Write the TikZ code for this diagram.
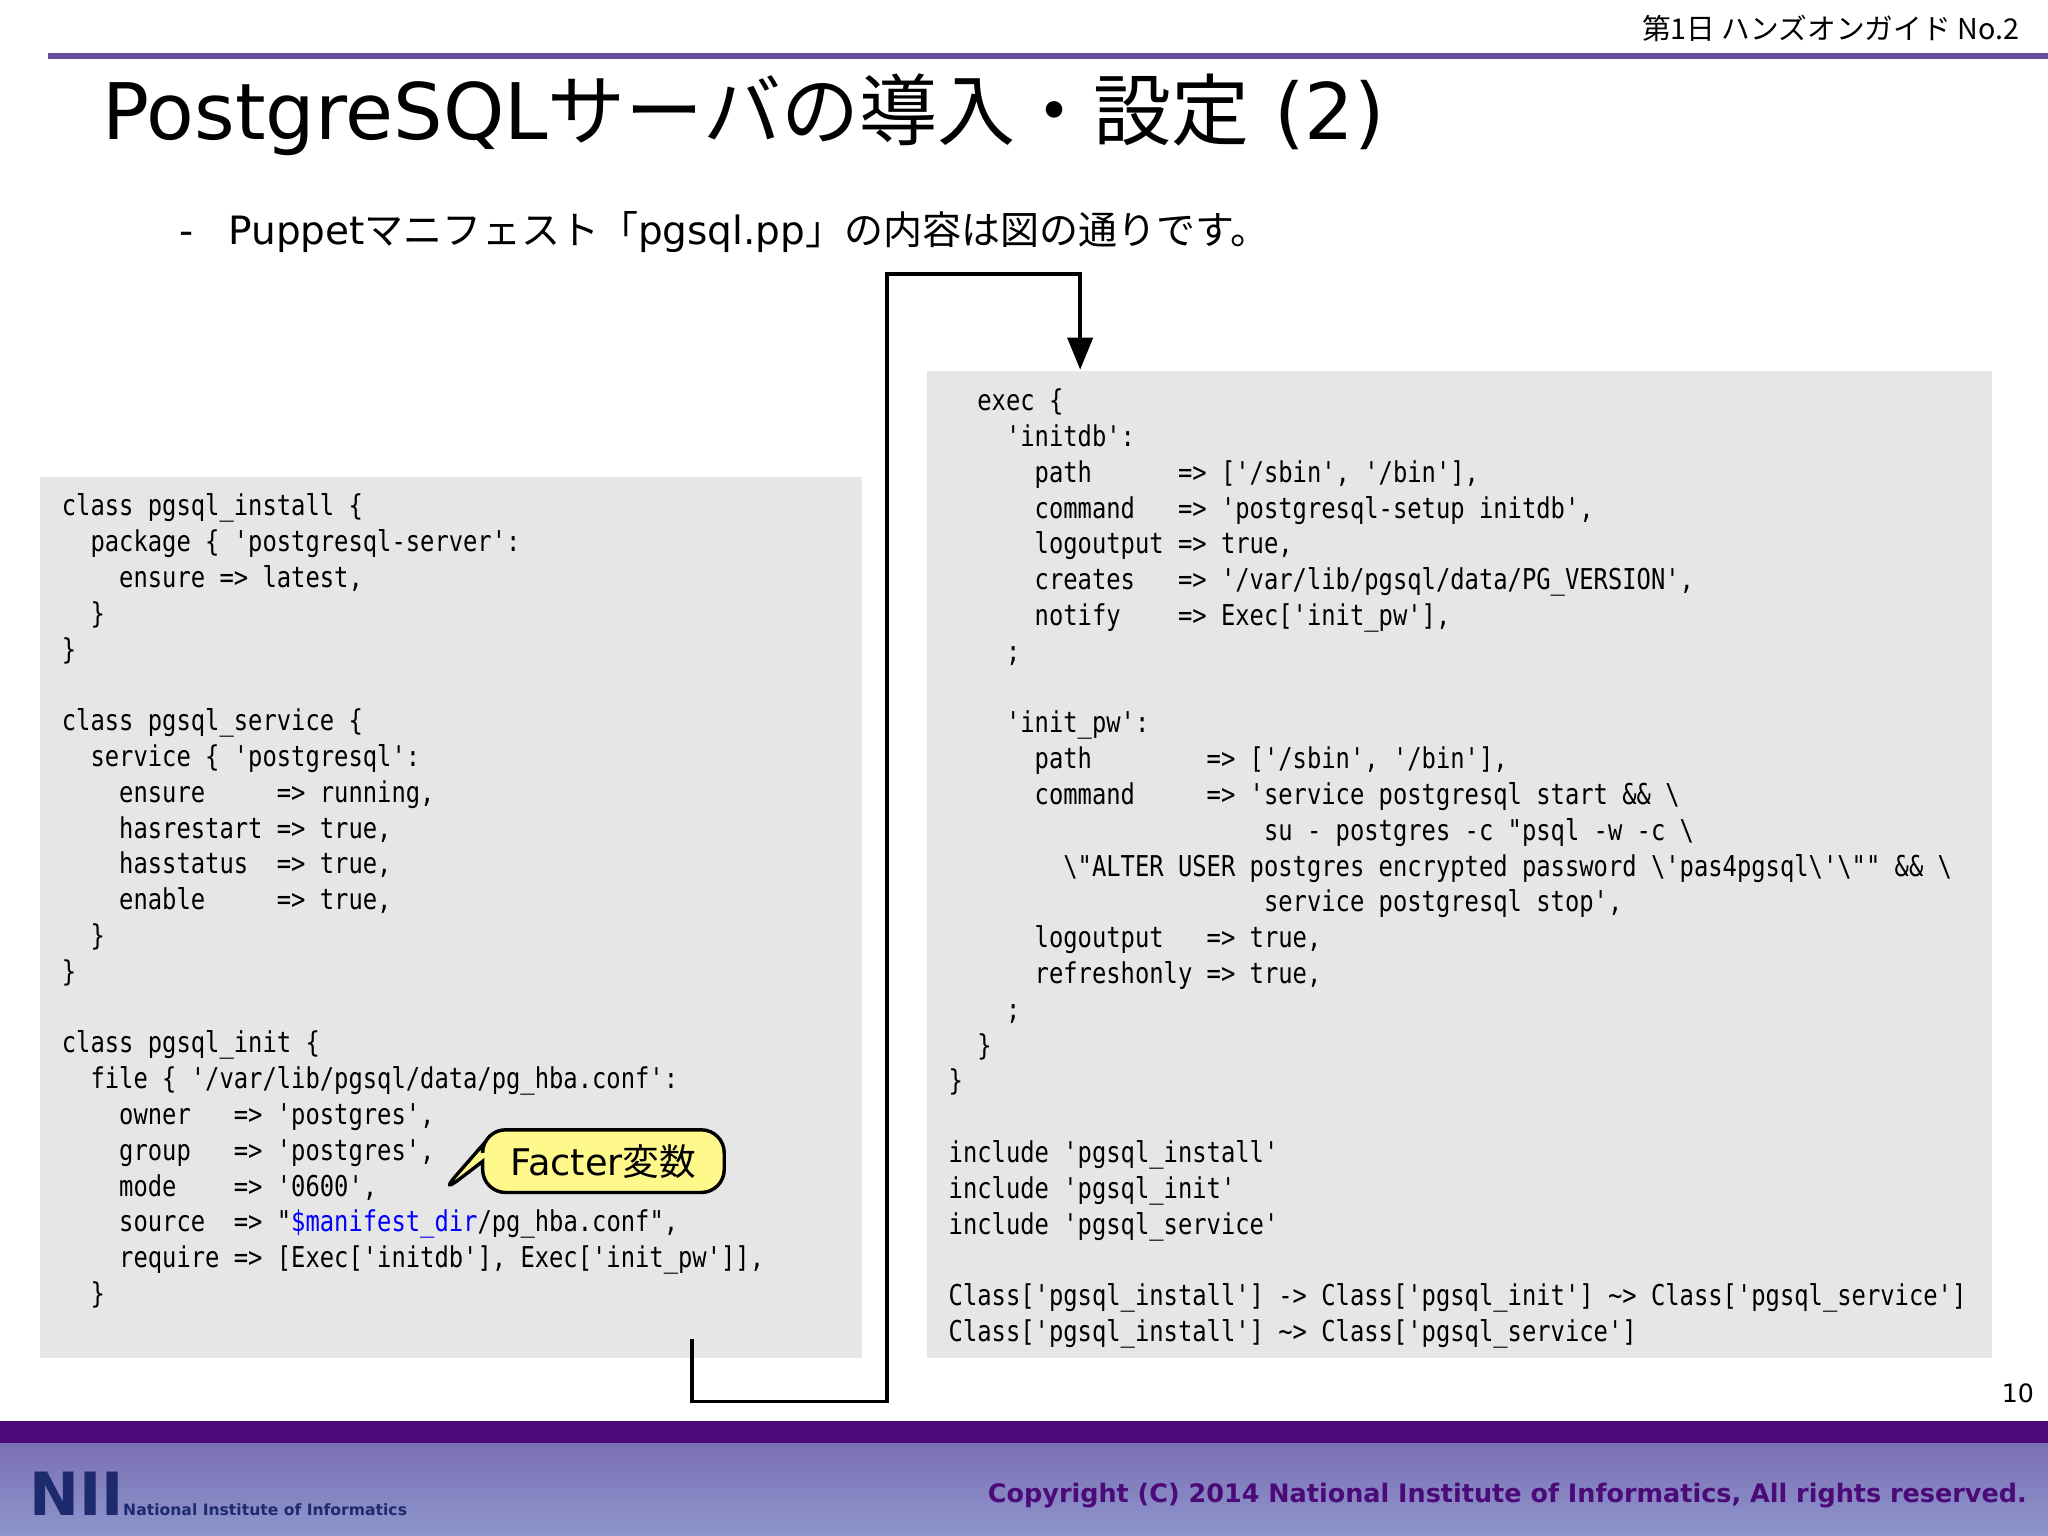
\documentclass[tikz,border=0pt]{standalone}
\usepackage{fontspec}
\setmainfont{DejaVu Sans}
\newfontfamily\jp{Noto Sans CJK JP}
\newfontfamily\code[FakeStretch=0.83]{DejaVu Sans Mono}
\usetikzlibrary{arrows.meta,shapes.callouts}
\definecolor{hdr}{HTML}{6A4C9C}
\definecolor{boxbg}{HTML}{E6E6E6}
\definecolor{foot}{HTML}{4B0A78}
\definecolor{footl}{HTML}{8E96CC}
\definecolor{nii}{HTML}{1E2A6E}
\tikzset{codebox/.style={fill=boxbg,draw=none},
 codetxt/.style={anchor=base west,align=left,inner sep=0pt,font=\code\fontsize{12.5}{15.6}\selectfont},
 conn/.style={draw=black,line width=1.6pt}}
\begin{document}
\begin{tikzpicture}[x=0.02cm,y=0.02cm]
\useasboundingbox (0,0) rectangle (1568,-1176);
% header
\node[anchor=east,font=\jp\fontsize{12.5}{14}\selectfont] (hd) at (1552,-22) {第1日 ハンズオンガイド No.2};
\draw[hdr,line width=2.5pt] (37,-43) -- (1568,-43);
\node[anchor=base west,inner sep=0pt,font=\fontsize{34}{40}\selectfont] (title) at (78,-107) {PostgreSQL{\jp サーバの導入・設定} (2)};
\node[anchor=base west,inner sep=0pt,font=\fontsize{17}{20}\selectfont] (bul) at (137,-187) {-\hspace{0.9em}Puppet{\jp マニフェスト「}pgsql.pp{\jp 」の内容は図の通りです。}};
% boxes
\fill[boxbg] (31,-365) rectangle (660,-1040);
\fill[boxbg] (710,-284) rectangle (1525,-1040);
\node[codetxt] (lc) at (47,-998) {class pgsql\_install \{\\
~~package \{ 'postgresql-server':\\
~~~~ensure => latest,\\
~~\}\\
\}\\
~\\
class pgsql\_service \{\\
~~service \{ 'postgresql':\\
~~~~ensure~~~~ => running,\\
~~~~hasrestart => true,\\
~~~~hasstatus~ => true,\\
~~~~enable~~~~ => true,\\
~~\}\\
\}\\
~\\
class pgsql\_init \{\\
~~file \{ '/var/lib/pgsql/data/pg\_hba.conf':\\
~~~~owner~~ => 'postgres',\\
~~~~group~~ => 'postgres',\\
~~~~mode~~~ => '0600',\\
~~~~source~ => "\textcolor{blue}{\$manifest\_dir}/pg\_hba.conf",\\
~~~~require => [Exec['initdb'], Exec['init\_pw']],\\
~~\}};
\node[codetxt] (rc) at (726,-1027) {~~exec \{\\
~~~~'initdb':\\
~~~~~~path~~~~~ => ['/sbin', '/bin'],\\
~~~~~~command~~ => 'postgresql-setup initdb',\\
~~~~~~logoutput => true,\\
~~~~~~creates~~ => '/var/lib/pgsql/data/PG\_VERSION',\\
~~~~~~notify~~~ => Exec['init\_pw'],\\
~~~~;\\
~\\
~~~~'init\_pw':\\
~~~~~~path~~~~~~~ => ['/sbin', '/bin'],\\
~~~~~~command~~~~ => 'service postgresql start \&\& \textbackslash\\
~~~~~~~~~~~~~~~~~~~~~~su - postgres -c "psql -w -c \textbackslash\\
~~~~~~~~\textbackslash"ALTER USER postgres encrypted password \textbackslash'pas4pgsql\textbackslash'\textbackslash"" \&\& \textbackslash\\
~~~~~~~~~~~~~~~~~~~~~~service postgresql stop',\\
~~~~~~logoutput~~ => true,\\
~~~~~~refreshonly => true,\\
~~~~;\\
~~\}\\
\}\\
~\\
include 'pgsql\_install'\\
include 'pgsql\_init'\\
include 'pgsql\_service'\\
~\\
Class['pgsql\_install'] -> Class['pgsql\_init'] \textasciitilde> Class['pgsql\_service']\\
Class['pgsql\_install'] \textasciitilde> Class['pgsql\_service']};
% connector
\coordinate (s) at (530,-1025);
\coordinate (e) at (827,-283);
\draw[conn,-{Triangle[length=14pt,width=11pt]}] (s) -- (530,-1073) -- (679,-1073) -- (679,-210) -- (827,-210) -- (e);
% callout
\node[rectangle callout,rounded corners=10pt,fill=yellow!45,draw=black,line width=1.5pt,
  minimum width=3.7cm,minimum height=0.96cm,callout absolute pointer={(337,-914)},font=\fontsize{16}{18}\selectfont] (fv) at (462,-889) {Facter{\jp 変数}};
% footer
\node[anchor=center,font=\fontsize{11}{13}\selectfont] (pg) at (1545,-1067) {10};
\shade[top color=footl!70!foot,bottom color=footl] (0,-1100) rectangle (1568,-1176);
\fill[foot] (0,-1088) rectangle (1568,-1105);
\node[anchor=base west,inner sep=0pt,text=nii,font=\bfseries\fontsize{26}{28}\selectfont] (logo) at (22,-1160) {NII};
\node[anchor=base west,inner sep=0pt,text=nii,font=\bfseries\fontsize{6.8}{8}\selectfont] (logot) at (94,-1160) {National Institute of Informatics};
\node[anchor=base east,inner sep=0pt,text=foot,font=\bfseries\fontsize{11.1}{13}\selectfont] (copy) at (1552,-1150) {Copyright (C) 2014 National Institute of Informatics, All rights reserved.};
\end{tikzpicture}
\end{document}
